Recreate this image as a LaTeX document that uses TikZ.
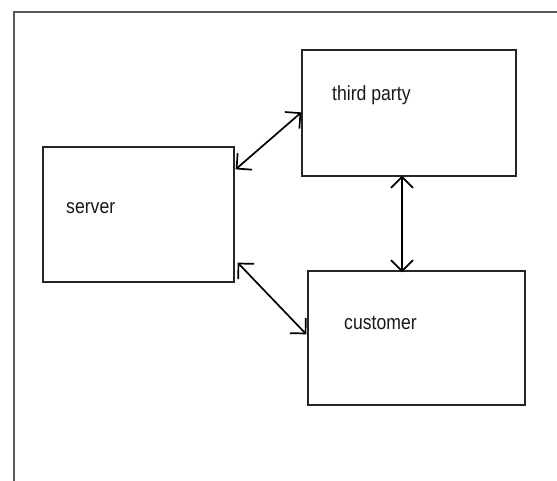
\documentclass[tikz,border=0pt]{standalone}
\usepackage{fontspec}
\setmainfont{Liberation Sans}[FakeStretch=0.86]
\usetikzlibrary{arrows.meta,calc}
\tikzset{
  box/.style={draw=black!85, line width=1.3pt, rectangle, inner sep=0pt},
  lbl/.style={anchor=base west, inner sep=0pt, font=\fontsize{20.5}{20.5}\selectfont, text=black!90},
  link/.style={line width=1.7pt, {Straight Barb[length=11pt,width=22pt]}-{Straight Barb[length=11pt,width=22pt]}},
  frame/.style={draw=black!65, line width=1.4pt}
}
\begin{document}
\begin{tikzpicture}[x=1pt,y=-1pt]
\useasboundingbox (0,0) rectangle (557,481);
\fill[white] (0,0) rectangle (557,481);
\coordinate (fb) at (14,485);
\coordinate (fc) at (14,12);
\coordinate (fr) at (561,12);
\draw[frame] (fb) -- (fc) -- (fr);
\node[box, minimum width=214pt, minimum height=126pt] (third) at (409,113) {};
\node[box, minimum width=191pt, minimum height=135pt] (server) at (138.5,214.5) {};
\node[box, minimum width=217pt, minimum height=134pt] (customer) at (416.5,338) {};
\node[lbl] (tthird) at (332,101) {third party};
\node[lbl] (tserver) at (66,214) {server};
\node[lbl] (tcustomer) at (344,329) {customer};
\draw[link] ($(server.north east)+(1,23)$) -- ($(third.north west)+(0,63)$);
\draw[link] ($(server.south east)+(3,-20)$) -- ($(customer.north west)+(-1,64)$);
\draw[link] ($(third.south)+(-7,-1)$) -- ($(customer.north)+(-14.5,2)$);
\end{tikzpicture}
\end{document}
